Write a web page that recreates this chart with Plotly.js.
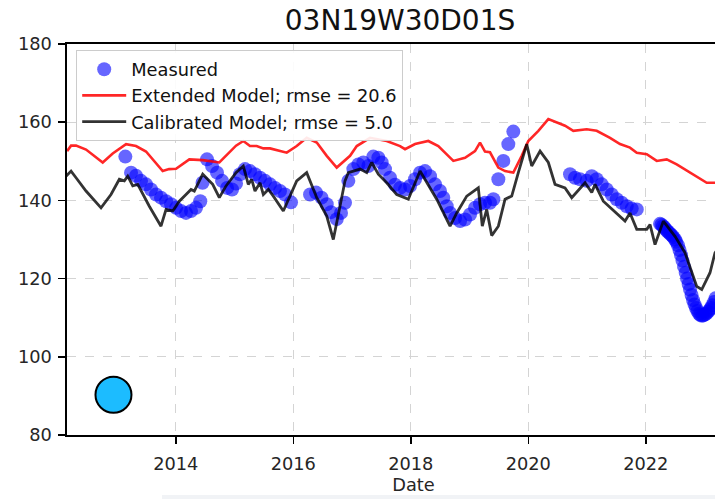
<!DOCTYPE html>
<html>
<head>
<meta charset="utf-8">
<script src="https://cdn.plot.ly/plotly-3.0.1.min.js"></script>
<style>
html,body{margin:0;padding:0;overflow:hidden;background:#fff;}
#chart{width:760px;height:499px;}
</style>
</head>
<body>
<div id="chart"></div>
<script>
// Measured water level
const measuredYear = [2013.142,2013.239,2013.324,2013.409,2013.494,2013.579,2013.664,2013.749,2013.835,2013.92,2014.005,2014.09,2014.175,2014.26,2014.345,2014.418,2014.456,2014.532,2014.618,2014.703,2014.788,2014.873,2014.958,2015.026,2015.094,2015.179,2015.264,2015.349,2015.435,2015.52,2015.605,2015.69,2015.775,2015.86,2015.962,2016.286,2016.388,2016.481,2016.57,2016.643,2016.74,2016.813,2016.881,2016.938,2017.023,2017.108,2017.193,2017.278,2017.363,2017.448,2017.506,2017.562,2017.647,2017.732,2017.818,2017.903,2017.988,2018.073,2018.158,2018.243,2018.328,2018.413,2018.498,2018.554,2018.612,2018.669,2018.754,2018.839,2018.924,2019.009,2019.094,2019.179,2019.264,2019.349,2019.406,2019.491,2019.576,2019.661,2019.746,2020.711,2020.796,2020.881,2020.995,2021.081,2021.165,2021.251,2021.336,2021.421,2021.506,2021.591,2021.676,2021.761,2021.847,2022.243,2022.268,2022.294,2022.32,2022.345,2022.37,2022.396,2022.42,2022.447,2022.47,2022.498,2022.52,2022.549,2022.575,2022.601,2022.625,2022.652,2022.68,2022.703,2022.73,2022.754,2022.78,2022.805,2022.83,2022.856,2022.88,2022.907,2022.93,2022.958,2022.98,2023.009,2023.035,2023.06,2023.085,2023.111,2023.135,2023.162,2023.19];
const measuredLevel = [151.2,147.1,146.3,145,144.1,142.8,141.5,140.7,139.8,139,138.1,137.3,136.8,137.3,138.1,139.8,144.5,150.5,148.8,147.1,145,143.2,142.8,144.3,146.7,148,147.5,146.7,145.8,145,144.1,143.2,142.4,141.5,139.5,141.5,142,140.7,139,137,135.2,136.8,139.4,145,148,149.2,149.7,148.8,151.2,150.9,149.7,148,145.8,144,143.2,142.8,143.7,145.4,147.1,147.5,146.2,144.1,142.4,140.7,138.5,136.8,135.5,134.7,135.1,136.4,138.1,139,139.4,139.4,140.3,145.4,150.1,154.4,157.6,146.7,145.8,145.4,145,146.2,145.4,144.1,142.8,141.5,140.3,139.4,138.5,137.9,137.7,134,133.8,133.4,133,132.5,132.1,131.7,131.4,131,130.6,130,129.4,128.5,127.3,126,124.6,123,121.5,120,118.6,117.2,115.8,114.5,113.4,112.5,111.7,111,110.7,110.5,110.6,110.8,111.1,111.5,112,112.5,113.2,114,115];

// Extended model
const extendedYear = [2012.15,2012.218,2012.303,2012.473,2012.757,2012.927,2013.154,2013.324,2013.494,2013.778,2013.886,2014.005,2014.231,2014.459,2014.742,2015.026,2015.15,2015.264,2015.378,2015.491,2015.605,2015.775,2015.889,2016.059,2016.229,2016.4,2016.57,2016.74,2016.967,2017.081,2017.307,2017.591,2017.818,2017.903,2018.073,2018.299,2018.469,2018.725,2018.924,2019.094,2019.179,2019.264,2019.349,2019.491,2019.605,2019.746,2019.889,2020.001,2020.172,2020.342,2020.512,2020.626,2020.767,2020.995,2021.165,2021.392,2021.562,2021.732,2021.847,2022.017,2022.187,2022.357,2022.527,2022.81,2023.038,2023.179,2023.4];
const extendedLevel = [152.6,154,154,153,149.7,152,154.4,153.9,152.5,147.5,148,148.1,150.5,150.3,149.7,154,155.2,153.9,153.9,153.3,153.3,152.7,152.2,153.9,156,154.8,151.4,148.4,151.4,153.9,156,155.2,153.9,153.1,154.4,155.2,153.9,150.1,150.9,152.6,154.8,152.5,152.3,148.4,147.5,147.1,151.4,155.2,157.8,160.8,159.9,159.1,157.8,158.2,157.8,156,154.4,153.5,152.2,151.8,150.1,150.5,149.2,146.7,144.5,144.5,144.5];

// Calibrated model
const calibratedYear = [2012.132,2012.218,2012.303,2012.473,2012.728,2012.898,2013.04,2013.125,2013.183,2013.268,2013.353,2013.55,2013.749,2013.835,2013.949,2014.061,2014.175,2014.26,2014.316,2014.459,2014.629,2014.742,2014.856,2015.026,2015.15,2015.235,2015.293,2015.349,2015.435,2015.491,2015.576,2015.661,2015.831,2015.945,2016.059,2016.229,2016.4,2016.57,2016.682,2016.796,2016.881,2016.938,2017.137,2017.251,2017.336,2017.448,2017.591,2017.761,2017.959,2018.158,2018.243,2018.442,2018.669,2018.783,2018.953,2019.15,2019.218,2019.293,2019.378,2019.491,2019.605,2019.719,2019.831,2019.974,2020.059,2020.201,2020.342,2020.456,2020.626,2020.74,2020.967,2021.081,2021.137,2021.278,2021.647,2021.732,2021.847,2022.017,2022.073,2022.158,2022.299,2022.498,2022.669,2022.868,2022.953,2023.094,2023.179,2023.3];
const calibratedLevel = [146.2,147.5,145.8,142.4,138.1,141.5,145.4,145,146.2,143.7,144.1,138.5,133.4,137.7,137.3,139.8,141.5,142.8,142.4,146.7,144.1,140.7,143.7,147.1,148.8,144.1,145.4,142.4,144.5,141.5,142.8,141.1,137.3,141.1,145,147.1,140.7,136,130,138.5,145,147.1,148,147.1,149.7,146.7,144.5,141.5,140.3,147.5,145.4,140.3,133.4,136.8,141.1,143.2,133.4,137.7,131,133.4,140.3,141.1,147.1,154.4,148.8,152.6,149.7,144.1,143.2,140.7,144.5,142,144.1,139.8,134.7,136.8,132.6,132.6,133.8,128.7,134.7,130.8,126.6,118,117.2,121.5,126.6,129];

// Well location marker
const wellYear = [2012.94];
const wellLevel = [90.3];

const xTicks = [2014, 2016, 2018, 2020, 2022];
const yTicks = [80, 100, 120, 140, 160, 180];

const FONT = 'DejaVu Sans, sans-serif';
const textColor = '#262626';

const traces = [
  {
    x: measuredYear, y: measuredLevel, type: 'scatter', mode: 'markers',
    name: 'Measured', legendgroup: 'a',
    marker: {color: 'rgba(0,0,255,0.6)', size: 14, line: {width: 0}}
  },
  {
    x: extendedYear, y: extendedLevel, type: 'scatter', mode: 'lines',
    name: 'Extended Model; rmse = 20.6', legendgroup: 'b',
    line: {color: 'rgba(255,0,0,0.85)', width: 2.6}
  },
  {
    x: calibratedYear, y: calibratedLevel, type: 'scatter', mode: 'lines',
    name: 'Calibrated Model; rmse = 5.0', legendgroup: 'c',
    line: {color: 'rgba(0,0,0,0.8)', width: 2.8}
  },
  {
    x: wellYear, y: wellLevel, type: 'scatter', mode: 'markers',
    showlegend: false, hoverinfo: 'skip',
    marker: {color: '#1cbcff', size: 36, line: {color: '#000', width: 2}}
  }
];

const plotLeft = 67;
const pxPerYear = 58.75;
const xStart = 2012.149;
const plotWidth = 760 - plotLeft;
const plotHeight = 391;
const xEnd = xStart + plotWidth / pxPerYear;

const layout = {
  width: 760, height: 499,
  margin: {l: plotLeft, r: 0, t: 44, b: 64, pad: 0},
  paper_bgcolor: '#fff', plot_bgcolor: '#fff',
  font: {family: FONT, color: textColor, size: 17.8},
  title: {
    text: '03N19W30D01S', font: {family: FONT, size: 28, color: '#111'},
    xref: 'container', x: 400 / 760, xanchor: 'center',
    yref: 'container', y: 1 - 20 / 499, yanchor: 'middle'
  },
  xaxis: {
    range: [xStart, xEnd], tickvals: xTicks, ticktext: xTicks.map(String),
    showline: true, linecolor: '#000', linewidth: 1.6, mirror: true,
    ticks: 'outside', ticklen: 7, tickwidth: 1.5, tickcolor: '#000',
    ticklabelstandoff: 5,
    showgrid: true, gridcolor: '#d4d4d4', griddash: 'dash', gridwidth: 1,
    zeroline: false,
    tickfont: {family: FONT, size: 17.8, color: textColor},
    title: {text: 'Date', font: {family: FONT, size: 17.8, color: textColor}, standoff: 5}
  },
  yaxis: {
    range: [80, 180], tickvals: yTicks,
    showline: true, linecolor: '#000', linewidth: 1.6, mirror: false,
    ticks: 'outside', ticklen: 7, tickwidth: 1.5, tickcolor: '#000',
    ticklabelstandoff: 3,
    showgrid: true, gridcolor: '#d4d4d4', griddash: 'dash', gridwidth: 1,
    zeroline: false,
    tickfont: {family: FONT, size: 17.8, color: textColor}
  },
  shapes: [{
    type: 'rect', xref: 'paper', yref: 'paper', layer: 'below',
    x0: (162 - plotLeft) / plotWidth, x1: 1.05,
    y0: (435 - 500) / plotHeight, y1: (435 - 495) / plotHeight,
    fillcolor: '#f1f3f6', line: {width: 0}
  }],
  showlegend: true,
  legend: {
    x: (76 - plotLeft) / plotWidth, y: (435 - 50) / plotHeight, xanchor: 'left', yanchor: 'top',
    bgcolor: 'rgba(255,255,255,0.9)', bordercolor: '#cccccc', borderwidth: 1.2,
    font: {family: FONT, size: 17.8, color: '#111'},
    itemwidth: 44, tracegroupgap: 0, traceorder: 'grouped'
  }
};

Plotly.newPlot('chart', traces, layout, {displayModeBar: false, staticPlot: true});
</script>
</body>
</html>
